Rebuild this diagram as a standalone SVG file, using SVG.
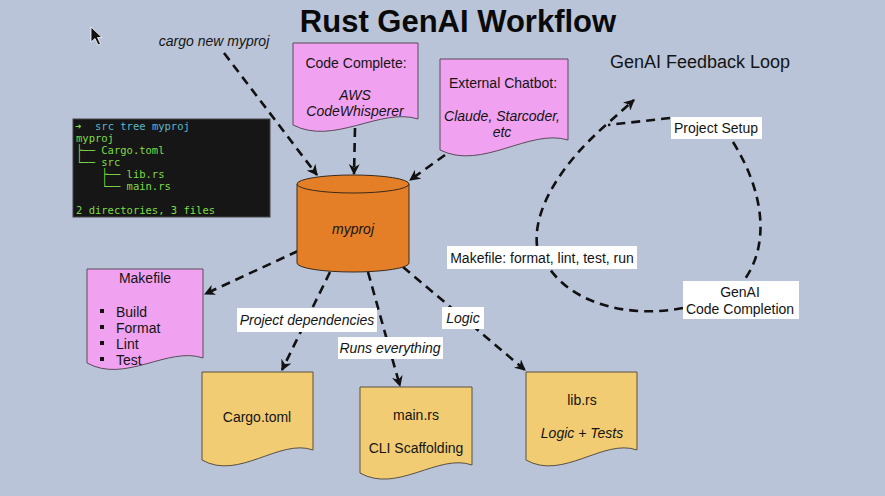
<svg xmlns="http://www.w3.org/2000/svg" width="885" height="496" viewBox="0 0 885 496">
<style>
text{font-family:"Liberation Sans",Arial,sans-serif;fill:#141414;}
.t14{font-size:14px;}
.it{font-style:italic;}
.mid{text-anchor:middle;}
.pink{fill:#f0a2f0;stroke:#5a4a5a;stroke-width:1;}
.yel{fill:#f1cc72;stroke:#5a5040;stroke-width:1;}
.edge{fill:none;stroke:#111;stroke-width:2.6;stroke-dasharray:9 6;}
.lbl{fill:#ffffff;}
.mono{font-family:"DejaVu Sans Mono","Liberation Mono",monospace;font-size:10.5px;fill:#7fdc45;}
.cy{fill:#5cb8cc;}
</style>
<defs>
<marker id="arr" viewBox="0 0 10 10" refX="9" refY="5" markerWidth="11" markerHeight="11" markerUnits="userSpaceOnUse" orient="auto">
<path d="M0,0 L10,5 L0,10 L3,5 Z" fill="#111"/>
</marker>
</defs>
<rect x="0" y="0" width="885" height="496" fill="#b9c4d8"/>

<text x="458" y="32" class="mid" style="font-size:31px;font-weight:bold;fill:#0a0a0a">Rust GenAI Workflow</text>
<text x="214" y="46" class="t14 it mid">cargo new myproj</text>
<text x="700" y="68" class="mid" style="font-size:18px">GenAI Feedback Loop</text>

<path d="M91,27 L91,42 L95,38.5 L98,45 L100.5,44 L97.5,37.5 L102,37.5 Z" fill="#111" stroke="#fff" stroke-width="0.8"/>

<g id="terminal">
<rect x="73" y="119" width="197" height="98" fill="#161616" stroke="#444" stroke-width="1"/>
<text x="75" y="130" class="mono">➜</text>
<text x="95" y="130" class="mono cy">src tree myproj</text>
<text x="76" y="142" class="mono">myproj</text>
<text x="76" y="154" class="mono" xml:space="preserve">├── Cargo.toml</text>
<text x="76" y="166" class="mono" xml:space="preserve">└── src</text>
<text x="76" y="178" class="mono" xml:space="preserve">    ├── lib.rs</text>
<text x="76" y="190" class="mono" xml:space="preserve">    └── main.rs</text>
<text x="76" y="214" class="mono">2 directories, 3 files</text>
</g>

<g id="edges">
<path class="edge" d="M224,53 L317,175" marker-end="url(#arr)"/>
<path class="edge" d="M355,128 L354,174" marker-end="url(#arr)"/>
<path class="edge" d="M445,155 L410,180" marker-end="url(#arr)"/>
<path class="edge" d="M298,251 L205,294" marker-end="url(#arr)"/>
<path class="edge" d="M330,272 L282,370" marker-end="url(#arr)"/>
<path class="edge" d="M368,272 L387,340 L400,386" marker-end="url(#arr)"/>
<path class="edge" d="M403,267 L525,370" marker-end="url(#arr)"/>
<path class="edge" d="M537,246 C533,210 560,165 607,124 L634,100" marker-end="url(#arr)"/>
<path class="edge" d="M670,118 L608,125"/>
<path class="edge" d="M733,142 C763,190 772,245 742,283"/>
<path class="edge" d="M683,308 C630,318 575,305 549,268"/>
</g>

<g id="code-complete">
<path class="pink" d="M293,43 H418 V119 C380.5,107 334,146 293,125 Z"/>
<text x="356" y="68" class="t14 mid">Code Complete:</text>
<text x="355" y="100" class="t14 it mid">AWS</text>
<text x="355" y="116" class="t14 it mid">CodeWhisperer</text>
</g>

<g id="external-chatbot">
<path class="pink" d="M440,59 H568 V140 C529.6,128 482,171 440,150 Z"/>
<text x="503" y="88" class="t14 mid">External Chatbot:</text>
<text x="502" y="121" class="t14 it mid">Claude, Starcoder,</text>
<text x="502" y="137" class="t14 it mid">etc</text>
</g>

<g id="myproj">
<path d="M297,184 V263 A56,9 0 0 0 409,263 V184" fill="#e47f27" stroke="#3a2a1a" stroke-width="1"/>
<ellipse cx="353" cy="184" rx="56" ry="9" fill="#e47f27" stroke="#3a2a1a" stroke-width="1"/>
<text x="353" y="234" class="t14 it mid">myproj</text>
</g>

<g id="makefile">
<path class="pink" d="M87,269 H203 V358 C168,346 125,384 87,363 Z"/>
<text x="145" y="283" class="t14 mid">Makefile</text>
<rect x="100" y="309" width="4" height="4" fill="#111"/>
<rect x="100" y="325" width="4" height="4" fill="#111"/>
<rect x="100" y="341" width="4" height="4" fill="#111"/>
<rect x="100" y="357" width="4" height="4" fill="#111"/>
<text x="116" y="317" class="t14">Build</text>
<text x="116" y="333" class="t14">Format</text>
<text x="116" y="349" class="t14">Lint</text>
<text x="116" y="365" class="t14">Test</text>
</g>

<g id="cargo-toml">
<path class="yel" d="M202,372 H313 V450 C279.7,438 238.6,481 202,460 Z"/>
<text x="257" y="422" class="t14 mid">Cargo.toml</text>
</g>

<g id="main-rs">
<path class="yel" d="M360,387 H472 V465 C438.4,453 397,494 360,473 Z"/>
<text x="416" y="420" class="t14 mid">main.rs</text>
<text x="416" y="453" class="t14 mid">CLI Scaffolding</text>
</g>

<g id="lib-rs">
<path class="yel" d="M526,372 H637 V450 C603.7,438 562.6,481 526,460 Z"/>
<text x="582" y="405" class="t14 mid">lib.rs</text>
<text x="582" y="438" class="t14 it mid">Logic + Tests</text>
</g>

<g id="label-deps">
<rect class="lbl" x="237" y="308" width="140" height="24"/>
<text x="307" y="325" class="t14 it mid">Project dependencies</text>
</g>
<g id="label-runs">
<rect class="lbl" x="338" y="337" width="105" height="22"/>
<text x="390" y="353" class="t14 it mid">Runs everything</text>
</g>
<g id="label-logic">
<rect class="lbl" x="442" y="307" width="42" height="22"/>
<text x="463" y="323" class="t14 it mid">Logic</text>
</g>

<g id="project-setup">
<rect class="lbl" x="671" y="117" width="91" height="22"/>
<text x="716" y="133" class="t14 mid">Project Setup</text>
</g>
<g id="makefile-loop">
<rect class="lbl" x="447" y="246" width="190" height="23"/>
<text x="542" y="263" class="t14 mid">Makefile: format, lint, test, run</text>
</g>
<g id="genai-completion">
<rect class="lbl" x="683" y="281" width="116" height="38"/>
<text x="740" y="297" class="t14 mid">GenAI</text>
<text x="740" y="314" class="t14 mid">Code Completion</text>
</g>
</svg>
